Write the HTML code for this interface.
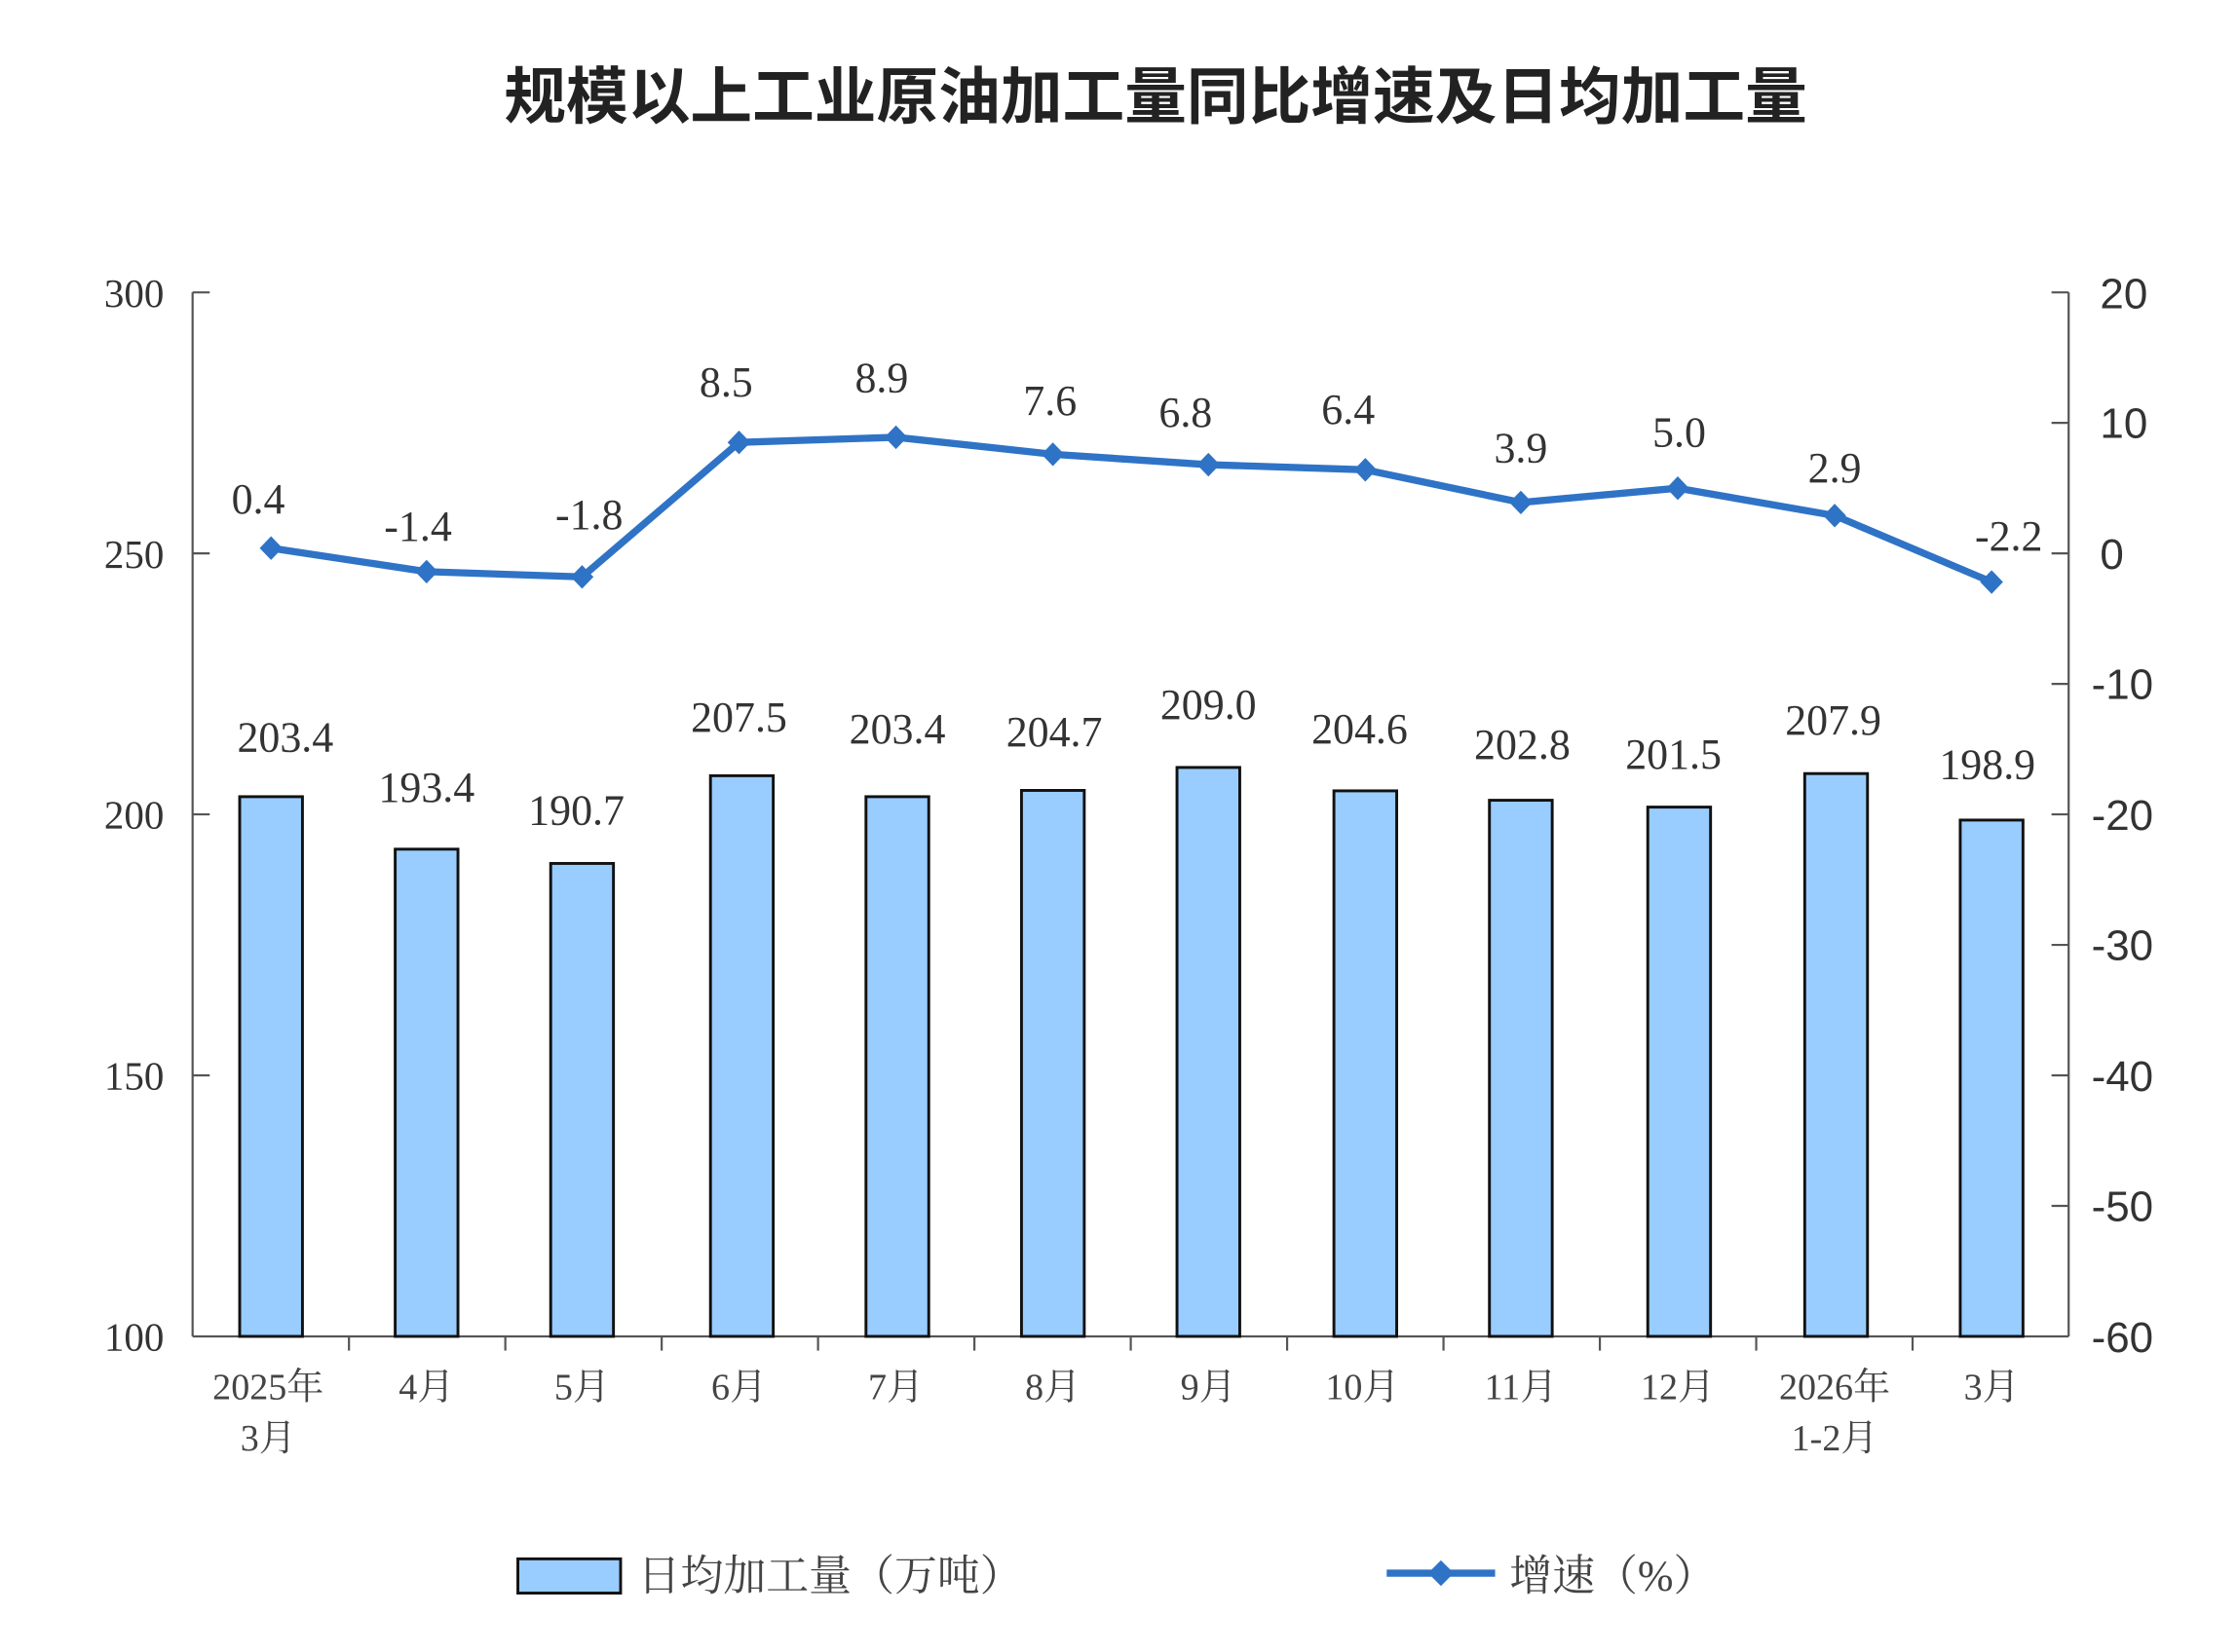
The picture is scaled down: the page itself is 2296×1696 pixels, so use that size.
<!DOCTYPE html>
<html><head><meta charset="utf-8"><style>
html,body{margin:0;padding:0;background:#fff;}
svg{display:block;}
.s{font-family:"Liberation Serif","Noto Serif CJK SC",serif;}
.a{font-family:"Liberation Sans","Noto Sans CJK SC",sans-serif;}
</style></head><body>
<svg width="2296" height="1696" viewBox="0 0 1568 1158.3" preserveAspectRatio="none" xmlns="http://www.w3.org/2000/svg">
<rect width="1568" height="1158.3" fill="#fff"/>
<text x="810" y="83" text-anchor="middle" class="a" font-size="43.5" font-weight="bold" fill="#222">规模以上工业原油加工量同比增速及日均加工量</text>
<g stroke="#555" stroke-width="1.5" fill="none">
<line x1="135" y1="205" x2="135" y2="937"/>
<line x1="1450" y1="205" x2="1450" y2="937"/>
<line x1="135" y1="937" x2="1450" y2="937"/>
<line x1="135" y1="205" x2="147" y2="205"/><line x1="135" y1="388" x2="147" y2="388"/><line x1="135" y1="571" x2="147" y2="571"/><line x1="135" y1="754" x2="147" y2="754"/>
<line x1="1438" y1="205" x2="1450" y2="205"/><line x1="1438" y1="296.5" x2="1450" y2="296.5"/><line x1="1438" y1="388" x2="1450" y2="388"/><line x1="1438" y1="479.5" x2="1450" y2="479.5"/><line x1="1438" y1="571" x2="1450" y2="571"/><line x1="1438" y1="662.5" x2="1450" y2="662.5"/><line x1="1438" y1="754" x2="1450" y2="754"/><line x1="1438" y1="845.5" x2="1450" y2="845.5"/>
<line x1="244.6" y1="937" x2="244.6" y2="947"/><line x1="354.2" y1="937" x2="354.2" y2="947"/><line x1="463.8" y1="937" x2="463.8" y2="947"/><line x1="573.4" y1="937" x2="573.4" y2="947"/><line x1="683" y1="937" x2="683" y2="947"/><line x1="792.6" y1="937" x2="792.6" y2="947"/><line x1="902.2" y1="937" x2="902.2" y2="947"/><line x1="1011.8" y1="937" x2="1011.8" y2="947"/><line x1="1121.4" y1="937" x2="1121.4" y2="947"/><line x1="1231" y1="937" x2="1231" y2="947"/><line x1="1340.6" y1="937" x2="1340.6" y2="947"/>
</g>
<g class="s" font-size="28" fill="#333" text-anchor="end">
<text x="115" y="215">300</text><text x="115" y="398">250</text><text x="115" y="581">200</text><text x="115" y="764">150</text><text x="115" y="947">100</text>
</g>
<g class="a" font-size="30" fill="#333" text-anchor="start">
<text x="1472" y="216">20</text><text x="1472" y="307">10</text><text x="1472" y="399">0</text><text x="1466" y="490">-10</text><text x="1466" y="582">-20</text><text x="1466" y="673">-30</text><text x="1466" y="765">-40</text><text x="1466" y="856">-50</text><text x="1466" y="948">-60</text>
</g>
<g fill="#99CCFF" stroke="#111" stroke-width="2">
<rect x="168" y="558.6" width="44" height="378.4"/>
<rect x="277" y="595.4" width="44" height="341.6"/>
<rect x="386" y="605.4" width="44" height="331.6"/>
<rect x="498" y="543.9" width="44" height="393.1"/>
<rect x="607" y="558.6" width="44" height="378.4"/>
<rect x="716" y="554.2" width="44" height="382.8"/>
<rect x="825" y="538.1" width="44" height="398.9"/>
<rect x="935" y="554.5" width="44" height="382.5"/>
<rect x="1044" y="561.1" width="44" height="375.9"/>
<rect x="1155" y="565.9" width="44" height="371.1"/>
<rect x="1265" y="542.4" width="44" height="394.6"/>
<rect x="1374" y="575" width="44" height="362"/>
</g>
<g class="s" font-size="30" fill="#333" text-anchor="middle">
<text x="200" y="527">203.4</text><text x="299" y="562">193.4</text><text x="404" y="578">190.7</text><text x="518" y="513">207.5</text><text x="629" y="521">203.4</text><text x="739" y="523">204.7</text><text x="847" y="504">209.0</text><text x="953" y="521">204.6</text><text x="1067" y="532">202.8</text><text x="1173" y="539">201.5</text><text x="1285" y="515">207.9</text><text x="1393" y="546">198.9</text>
</g>
<polyline fill="none" stroke="#2F73C6" stroke-width="5" stroke-linejoin="round" points="190,384.3 299,400.8 408,404.5 518,310.2 628,306.6 738,318.5 847,325.8 957,329.4 1066,352.3 1176,342.3 1286,361.5 1396,408.1"/>
<g fill="#2F73C6">
<path d="M190,376 l8,8.3 l-8,8.3 l-8,-8.3z"/><path d="M299,392.5 l8,8.3 l-8,8.3 l-8,-8.3z"/><path d="M408,396.2 l8,8.3 l-8,8.3 l-8,-8.3z"/><path d="M518,301.9 l8,8.3 l-8,8.3 l-8,-8.3z"/><path d="M628,298.3 l8,8.3 l-8,8.3 l-8,-8.3z"/><path d="M738,310.2 l8,8.3 l-8,8.3 l-8,-8.3z"/><path d="M847,317.5 l8,8.3 l-8,8.3 l-8,-8.3z"/><path d="M957,321.1 l8,8.3 l-8,8.3 l-8,-8.3z"/><path d="M1066,344 l8,8.3 l-8,8.3 l-8,-8.3z"/><path d="M1176,334 l8,8.3 l-8,8.3 l-8,-8.3z"/><path d="M1286,353.2 l8,8.3 l-8,8.3 l-8,-8.3z"/><path d="M1396,399.8 l8,8.3 l-8,8.3 l-8,-8.3z"/>
</g>
<g class="s" font-size="30" fill="#333" text-anchor="middle">
<text x="181" y="360">0.4</text><text x="293" y="379">-1.4</text><text x="413" y="371">-1.8</text><text x="509" y="278">8.5</text><text x="618" y="275">8.9</text><text x="736" y="291">7.6</text><text x="831" y="299">6.8</text><text x="945" y="297">6.4</text><text x="1066" y="324">3.9</text><text x="1177" y="313">5.0</text><text x="1286" y="338">2.9</text><text x="1408" y="386">-2.2</text>
</g>
<g class="s" font-size="26" fill="#444" text-anchor="middle">
<text x="188" y="981">2025年</text><text x="188" y="1017">3月</text>
<text x="299" y="981">4月</text><text x="408" y="981">5月</text><text x="518" y="981">6月</text><text x="628" y="981">7月</text><text x="738" y="981">8月</text><text x="847" y="981">9月</text><text x="955" y="981">10月</text><text x="1066" y="981">11月</text><text x="1176" y="981">12月</text>
<text x="1286" y="981">2026年</text><text x="1286" y="1017">1-2月</text><text x="1396" y="981">3月</text>
</g>
<rect x="363" y="1093" width="72" height="24" fill="#99CCFF" stroke="#111" stroke-width="2"/>
<text x="447" y="1115" class="s" font-size="30" fill="#444">日均加工量（万吨）</text>
<line x1="972" y1="1103" x2="1048" y2="1103" stroke="#2F73C6" stroke-width="5"/>
<path d="M1010,1094 l9,9 l-9,9 l-9,-9z" fill="#2F73C6"/>
<text x="1058" y="1115" class="s" font-size="30" fill="#444">增速（%）</text>
</svg>
</body></html>
